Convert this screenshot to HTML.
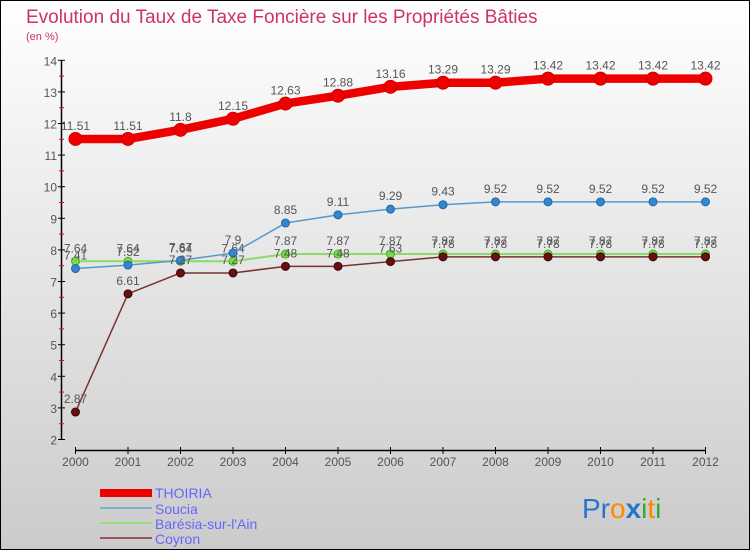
<!DOCTYPE html>
<html><head><meta charset="utf-8"><style>
body{margin:0;}
#wrap{width:750px;height:550px;position:relative;overflow:hidden;font-family:"Liberation Sans",sans-serif;}
</style></head><body>
<div id="wrap">
<svg id="chart" width="750" height="550" xmlns="http://www.w3.org/2000/svg">
<defs>
<linearGradient id="bg" x1="0" y1="0" x2="0" y2="1"><stop offset="0" stop-color="#ffffff"/><stop offset="1" stop-color="#cbcbcb"/></linearGradient>
</defs>
<rect x="0.5" y="0.5" width="749" height="549" fill="url(#bg)" stroke="#000"/>
<text x="26" y="23" font-size="19" fill="#cc3366">Evolution du Taux de Taxe Foncière sur les Propriétés Bâties</text>
<text x="26" y="40" font-size="11" fill="#cc3366">(en %)</text>
<g id="axes"></g>
<g id="series"></g>
<g id="legend" font-size="14" fill="#6666ff">
<rect x="100" y="489" width="52" height="8" fill="#ee0000"/>
<text x="155" y="498">THOIRIA</text>
<rect x="100" y="507" width="52" height="2" fill="#7fb0d8"/>
<text x="155" y="514">Soucia</text>
<rect x="100" y="522" width="52" height="2" fill="#99dd77"/>
<text x="155" y="529">Barésia-sur-l'Ain</text>
<rect x="100" y="537" width="52" height="2" fill="#995555"/>
<text x="155" y="544">Coyron</text>
</g>
<g font-size="28" font-family="'Liberation Sans',sans-serif">
<text x="582" y="518"><tspan fill="#2277cc">Pr</tspan><tspan fill="#ff8800">o</tspan><tspan fill="#2277cc" font-weight="bold">x</tspan><tspan fill="#33aa33">i</tspan><tspan fill="#ff8800">t</tspan><tspan fill="#33aa33">i</tspan></text>
</g>
</svg>
</div>
<script>
const years=[2000,2001,2002,2003,2004,2005,2006,2007,2008,2009,2010,2011,2012];
const thoiria=[11.51,11.51,11.8,12.15,12.63,12.88,13.16,13.29,13.29,13.42,13.42,13.42,13.42];
const soucia=[7.41,7.52,7.67,7.9,8.85,9.11,9.29,9.43,9.52,9.52,9.52,9.52,9.52];
const baresia=[7.64,7.64,7.64,7.64,7.87,7.87,7.87,7.87,7.87,7.87,7.87,7.87,7.87];
const coyron=[2.87,6.61,7.27,7.27,7.48,7.48,7.63,7.78,7.78,7.78,7.78,7.78,7.78];
const yTicks=[2,3,4,5,6,7,8,9,10,11,12,13,14];

const NS="http://www.w3.org/2000/svg";
const X=i=>75.5+i*(705.5-75.5)/12;
const Y=v=>439.5-(v-2)*31.6;
function mk(tag,attrs,parent){const e=document.createElementNS(NS,tag);for(const k in attrs)e.setAttribute(k,attrs[k]);parent.appendChild(e);return e;}
const ax=document.getElementById('axes');
let yl=mk('line',{x1:61.5,y1:Y(14),x2:61.5,y2:Y(2),stroke:'#000','stroke-width':1.5},ax);


yTicks.forEach(t=>{
  mk('line',{x1:58,x2:65,y1:Y(t),y2:Y(t),stroke:'#000'},ax);
  if(t<14){mk('line',{x1:59,x2:64,y1:Y(t+0.5),y2:Y(t+0.5),stroke:'#ff0000'},ax);}
  const tx=mk('text',{x:57,y:Y(t)+5,'font-size':12,fill:'#555','text-anchor':'end'},ax);
  tx.textContent=t;
  
  
});
let xl=mk('line',{x1:X(0),y1:450.5,x2:X(12),y2:450.5,stroke:'#000','stroke-width':1.5},ax);


years.forEach((yr,i)=>{
  mk('line',{x1:X(i),x2:X(i),y1:447,y2:454,stroke:'#000'},ax);
  const tx=mk('text',{x:X(i),y:466,'font-size':12,fill:'#555','text-anchor':'middle'},ax);
  tx.textContent=yr;
  
  
});
const sg=document.getElementById('series');
function series(vals,name,color,w,r,fill,stroke){
  const g=mk('g',{},sg);
  
  
  mk('polyline',{points:vals.map((v,i)=>X(i)+','+Y(v)).join(' '),fill:'none',stroke:color,'stroke-width':w,'stroke-linejoin':'round'},g);
  vals.forEach((v,i)=>{
    const c=mk('circle',{cx:X(i),cy:Y(v),r:r,fill:fill,stroke:stroke,'stroke-width':1},g);
    
    
    const t=mk('text',{x:X(i),y:Y(v)-9,'font-size':12,fill:'#555','text-anchor':'middle'},g);
    t.textContent=v;
    
    
  });
}
series(baresia,'baresia','#88dd66',2,4,'#77dd44','#55aa33');
series(soucia,'soucia','#5599cc',1.5,4,'#3388cc','#2266aa');
series(coyron,'coyron','#773333',1.5,4,'#661111','#440000');
series(thoiria,'thoiria','#ee0000',8.5,6.5,'#ee0000','#cc0000');
</script>
</body></html>
